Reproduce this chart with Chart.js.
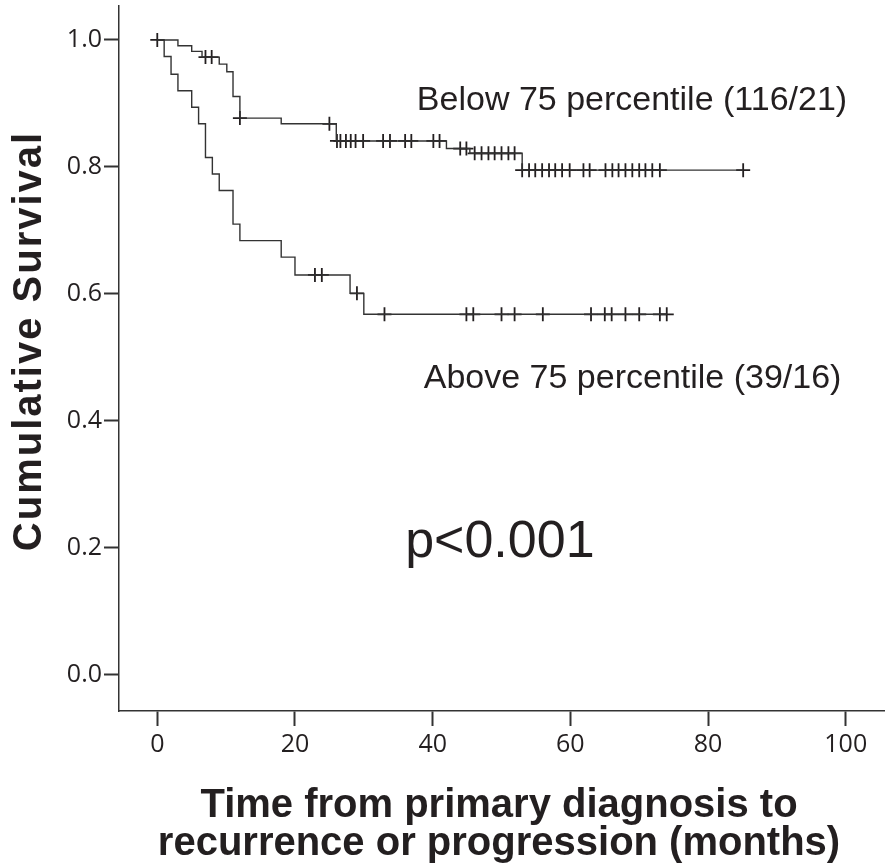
<!DOCTYPE html>
<html>
<head>
<meta charset="utf-8">
<script src="https://cdn.jsdelivr.net/npm/chart.js@4.4.1/dist/chart.umd.min.js"></script>
<style>
  html, body { margin: 0; padding: 0; background: #ffffff; overflow: hidden; }
  canvas { display: block; }
</style>
</head>
<body>
<canvas id="c" width="885" height="864" style="width:885px;height:864px"></canvas>
<script>
// ---------- data ----------
const xTicks = [0, 20, 40, 60, 80, 100];
const yTicks = [0.0, 0.2, 0.4, 0.6, 0.8, 1.0];

// "Below 75 percentile (116/21)"
const belowEventTimes = [0, 3.0, 5.0, 6.5, 9.0, 10.1, 11.0, 12.0, 18.0, 26.0, 42.0, 45.4, 53.0];
const belowSurvival   = [1.0, 0.991, 0.982, 0.973, 0.962, 0.950, 0.911, 0.877, 0.868, 0.841, 0.829, 0.8215, 0.795];
const belowCensorTimes = [0, 7.0, 7.9, 12.0, 25.0, 26.1, 26.6, 27.4, 28.1, 28.8, 29.9, 32.8, 33.8, 36.0, 36.9,
  40.1, 41.0, 44.0, 44.9, 46.1, 47.1, 48.1, 49.0, 50.0, 51.0, 51.9, 53.0, 54.0, 54.9, 55.9, 56.9, 57.8,
  58.8, 59.9, 61.9, 62.8, 65.1, 66.1, 67.0, 68.0, 69.0, 70.0, 70.9, 71.9, 73.0, 85.1];
const belowLastTime = 85.1;

// "Above 75 percentile (39/16)"
const aboveEventTimes = [0, 1.0, 2.0, 3.0, 5.0, 6.0, 7.0, 8.0, 9.0, 11.0, 12.0, 18.0, 20.0, 28.0, 30.0];
const aboveSurvival   = [1.0, 0.974, 0.946, 0.920, 0.894, 0.868, 0.815, 0.789, 0.763, 0.710, 0.684, 0.658, 0.630, 0.601, 0.568];
const aboveCensorTimes = [22.9, 23.9, 29.0, 33.0, 44.9, 45.9, 50.0, 51.9, 56.0, 63.0, 65.0, 66.0, 68.0, 70.0, 73.0, 74.0];
const aboveLastTime = 74.0;

const labelBelow = 'Below 75 percentile (116/21)';
const labelAbove = 'Above 75 percentile (39/16)';
const pValueText = 'p<0.001';
const xTitleLines = ['Time from primary diagnosis to', 'recurrence or progression (months)'];
const yTitle = 'Cumulative Survival';

// ---------- helpers ----------
function stepPoints(times, surv, lastTime) {
  const pts = times.map((t, i) => ({ x: t, y: surv[i] }));
  pts.push({ x: lastTime, y: surv[surv.length - 1] });
  return pts;
}
function levelAt(times, surv, t) {
  let v = surv[0];
  for (let i = 0; i < times.length; i++) { if (times[i] <= t) v = surv[i]; }
  return v;
}
function censorPoints(cTimes, times, surv) {
  return cTimes.map(t => ({ x: t, y: levelAt(times, surv, t) }));
}
function noPad(scale) {
  scale.paddingTop = 0; scale.paddingBottom = 0;
  scale.paddingLeft = 0; scale.paddingRight = 0;
}

const INK = '#231f20';
const LINE = '#333333';

const textPlugin = {
  id: 'texts',
  afterDraw(chart) {
    const { ctx, chartArea, scales } = chart;
    const xs = scales.x, ys = scales.y;
    ctx.save();
    ctx.fillStyle = INK;
    ctx.textAlign = 'left';
    ctx.textBaseline = 'alphabetic';
    ctx.font = '34px "Liberation Sans", Arial, sans-serif';
    ctx.fillText(labelBelow, xs.getPixelForValue(37.7), ys.getPixelForValue(0.890));
    ctx.fillText(labelAbove, xs.getPixelForValue(38.7), ys.getPixelForValue(0.452));
    ctx.font = '52px "Liberation Sans", Arial, sans-serif';
    ctx.fillText(pValueText, xs.getPixelForValue(36.0), ys.getPixelForValue(0.186));

    // axis titles
    ctx.font = 'bold 40px "Liberation Sans", Arial, sans-serif';
    ctx.textAlign = 'center';
    const cx = (chartArea.left + chartArea.right) / 2 - 3;
    ctx.fillText(xTitleLines[0], cx, chartArea.bottom + 106);
    ctx.fillText(xTitleLines[1], cx, chartArea.bottom + 144);

    ctx.translate(41, 341);
    ctx.rotate(-Math.PI / 2);
    try { ctx.letterSpacing = '2px'; } catch (e) {}
    ctx.fillText(yTitle, 0, 0);
    ctx.restore();
  }
};

Chart.defaults.animation = false;

new Chart(document.getElementById('c'), {
  type: 'scatter',
  data: {
    datasets: [
      {
        label: labelBelow,
        data: stepPoints(belowEventTimes, belowSurvival, belowLastTime),
        showLine: true, stepped: true,
        borderColor: LINE, borderWidth: 1.4, pointRadius: 0, fill: false
      },
      {
        label: labelAbove,
        data: stepPoints(aboveEventTimes, aboveSurvival, aboveLastTime),
        showLine: true, stepped: true,
        borderColor: LINE, borderWidth: 1.4, pointRadius: 0, fill: false
      },
      {
        label: 'censored below',
        data: censorPoints(belowCensorTimes, belowEventTimes, belowSurvival),
        showLine: false, pointStyle: 'cross', pointRadius: 7, pointBorderWidth: 1.8,
        borderColor: INK, backgroundColor: INK
      },
      {
        label: 'censored above',
        data: censorPoints(aboveCensorTimes, aboveEventTimes, aboveSurvival),
        showLine: false, pointStyle: 'cross', pointRadius: 7, pointBorderWidth: 1.8,
        borderColor: INK, backgroundColor: INK
      }
    ]
  },
  options: {
    responsive: false,
    maintainAspectRatio: false,
    devicePixelRatio: 1,
    animation: false,
    layout: { autoPadding: false, padding: { top: 6, right: 0, bottom: 0, left: 0 } },
    plugins: { legend: { display: false }, tooltip: { enabled: false } },
    scales: {
      x: {
        type: 'linear', min: -5.56, max: 105.7,
        afterBuildTicks(scale) { scale.ticks = xTicks.map(v => ({ value: v })); },
        afterFit(scale) { scale.height = 153; noPad(scale); },
        grid: { drawOnChartArea: false, drawTicks: true, tickLength: 15, tickWidth: 2, tickColor: LINE },
        border: { display: true, color: LINE, width: 1.5 },
        ticks: {
          color: INK, padding: 4,
          font: { family: '"Open Sans", sans-serif', size: 25 },
          callback: v => String(v)
        }
      },
      y: {
        type: 'linear', min: -0.0567, max: 1.0535,
        afterBuildTicks(scale) { scale.ticks = yTicks.map(v => ({ value: v })); },
        afterFit(scale) { scale.width = 119; noPad(scale); },
        grid: { drawOnChartArea: false, drawTicks: true, tickLength: 15, tickWidth: 2, tickColor: LINE },
        border: { display: true, color: LINE, width: 1.5 },
        ticks: {
          color: INK, padding: 2,
          font: { family: '"Open Sans", sans-serif', size: 25 },
          callback: v => Number(v).toFixed(1)
        }
      }
    }
  },
  plugins: [textPlugin]
});
</script>
</body>
</html>
